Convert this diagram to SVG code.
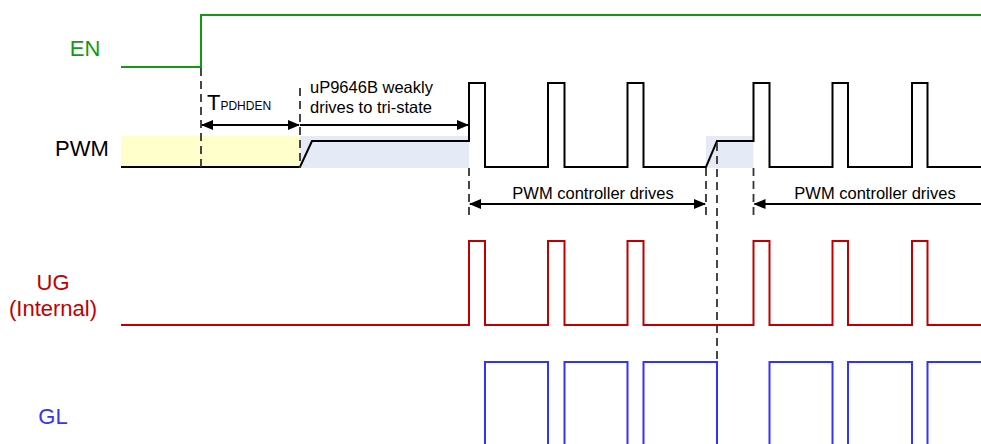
<svg xmlns="http://www.w3.org/2000/svg" width="981" height="444" viewBox="0 0 981 444">
<style>
.lbl{font-family:"Liberation Sans",Arial,sans-serif;font-size:22px;text-anchor:middle}
.ann{font-family:"Liberation Sans",Arial,sans-serif;font-size:16.5px;fill:#000}
.sig{fill:none;stroke-width:2;stroke-linejoin:miter}
.dash{fill:none;stroke:#333;stroke-width:1.8;stroke-dasharray:8,5}
.arr{fill:none;stroke:#000;stroke-width:1.8}
</style>
<defs>
<marker id="ah" markerWidth="12" markerHeight="10" refX="11" refY="5" orient="auto-start-reverse" markerUnits="userSpaceOnUse">
<path d="M0,0 L12,5 L0,10 Z" fill="#000"/>
</marker>
</defs>
<g id="backgrounds">
<rect x="121" y="136" width="179" height="32" fill="#ffffcc"/>
<rect x="300" y="136" width="169" height="32" fill="#e5ebf6"/>
<rect x="706" y="136" width="47.5" height="32" fill="#e5ebf6"/>
</g>
<g id="labels">
<text class="lbl" x="85" y="56" fill="#129a12">EN</text>
<text class="lbl" x="82" y="156" fill="#000">PWM</text>
<text class="lbl" x="53" y="290" fill="#c00000">UG</text>
<text class="lbl" x="53" y="316" fill="#c00000">(Internal)</text>
<text class="lbl" x="53" y="424" fill="#3333ff">GL</text>
</g>
<g id="signals">
<path id="EN" class="sig" stroke="#129a12" d="M121,67 H201 V15 H981"/>
<path id="PWM" class="sig" stroke="#000" d="M121,167 H300 L312,141 H469 V83 H485 V167 H548 V83 H564.5 V167 H627.5 V83 H643.5 V167 H706 L717,141 H753.5 V83 H769.5 V167 H832.5 V83 H848 V167 H912 V83 H927.5 V167 H981"/>
<path id="UG" class="sig" stroke="#c00000" d="M121,325 H469 V241 H485 V325 H548 V241 H564.5 V325 H627.5 V241 H643.5 V325 H753.5 V241 H769.5 V325 H832.5 V241 H848 V325 H912 V241 H927.5 V325 H981"/>
<path id="GL" class="sig" stroke="#3333ff" d="M485,446 V362 H548 V446 M564.5,446 V362 H627.5 V446 M643.5,446 V362 H717 V446 M769.5,446 V362 H832.5 V446 M848,446 V362 H912 V446 M927.5,446 V362 H983"/>
</g>
<g id="connectors">
<line class="dash" x1="201" y1="68" x2="201" y2="168"/>
<line class="dash" x1="300" y1="88" x2="300" y2="168"/>
<line class="dash" x1="469" y1="168" x2="469" y2="216"/>
<line class="dash" x1="706" y1="168" x2="706" y2="216"/>
<line class="dash" x1="717" y1="143" x2="717" y2="362"/>
<line class="dash" x1="753.5" y1="168" x2="753.5" y2="216"/>
<line class="arr" x1="202" y1="125" x2="299" y2="125" marker-start="url(#ah)" marker-end="url(#ah)"/>
<line class="arr" x1="300" y1="125" x2="468" y2="125" marker-end="url(#ah)"/>
<line class="arr" x1="470" y1="204" x2="705" y2="204" marker-start="url(#ah)" marker-end="url(#ah)"/>
<line class="arr" x1="754.5" y1="204" x2="981" y2="204" marker-start="url(#ah)"/>
</g>
<g id="annotations">
<text class="ann" x="207" y="110" style="font-size:22px">T<tspan style="font-size:12px">PDHDEN</tspan></text>
<text class="ann" x="310" y="93">uP9646B weakly</text>
<text class="ann" x="310" y="113">drives to tri-state</text>
<text class="ann" x="593" y="199" text-anchor="middle">PWM controller drives</text>
<text class="ann" x="875" y="199" text-anchor="middle">PWM controller drives</text>
</g>
</svg>
